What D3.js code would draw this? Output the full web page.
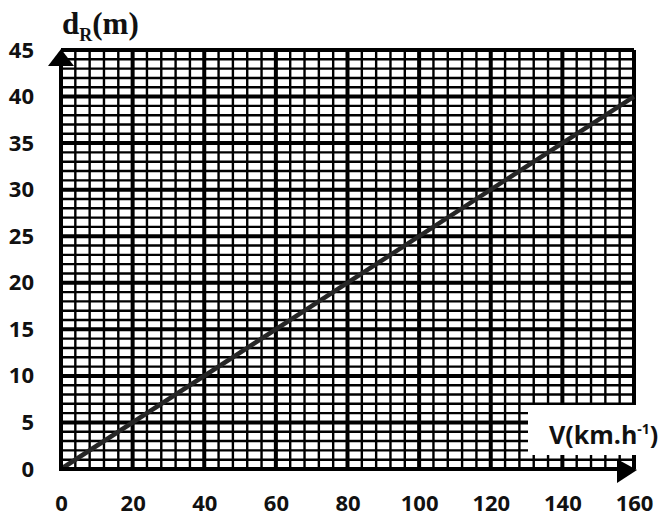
<!DOCTYPE html>
<html>
<head>
<meta charset="utf-8">
<script src="https://cdn.jsdelivr.net/npm/d3@7"></script>
<style>
  body { margin: 0; background: #fff; }
  svg { display: block; }
  .tick text { font-family: "Open Sans", sans-serif; font-weight: bold; font-size: 22px; fill: #111; }
</style>
</head>
<body>
<svg id="chart"></svg>
<script>
// speed (km/h) vs reaction distance (m)
const speeds = [0, 160];
const distances = [0, 40];
const xTicks = [0, 20, 40, 60, 80, 100, 120, 140, 160];
const yTicks = [0, 5, 10, 15, 20, 25, 30, 35, 40, 45];

const width = 663;
const height = 518;

const svg = d3.select('#chart')
  .attr('width', width)
  .attr('height', height);

const x = d3.scaleLinear().domain([0, 160]).range([61, 634]);
const y = d3.scaleLinear().domain([0, 45]).range([469, 50]);

// grid paper
const grid = svg.append('g');
grid.selectAll('.vmin')
  .data(d3.range(4, 160, 4).filter(v => v % 20 !== 0))
  .enter().append('line')
  .attr('x1', d => x(d)).attr('x2', d => x(d))
  .attr('y1', y(0)).attr('y2', y(45))
  .attr('stroke', '#000').attr('stroke-width', 2.4);
grid.selectAll('.hmin')
  .data(d3.range(1, 45, 1).filter(v => v % 5 !== 0))
  .enter().append('line')
  .attr('x1', x(0)).attr('x2', x(160))
  .attr('y1', d => y(d)).attr('y2', d => y(d))
  .attr('stroke', '#000').attr('stroke-width', 2.4);
grid.selectAll('.vmaj')
  .data(xTicks.slice(1))
  .enter().append('line')
  .attr('x1', d => x(d)).attr('x2', d => x(d))
  .attr('y1', y(0)).attr('y2', y(45))
  .attr('stroke', '#000').attr('stroke-width', 4);
grid.selectAll('.hmaj')
  .data(yTicks.slice(1))
  .enter().append('line')
  .attr('x1', x(0)).attr('x2', x(160))
  .attr('y1', d => y(d)).attr('y2', d => y(d))
  .attr('stroke', '#000').attr('stroke-width', 4);

// data line
const line = d3.line()
  .x((d, i) => x(speeds[i]))
  .y(d => y(d));
svg.append('path')
  .datum(distances)
  .attr('d', line)
  .attr('fill', 'none')
  .attr('stroke', '#262626')
  .attr('stroke-width', 4.5);

// white box behind the x label
svg.append('rect')
  .attr('x', 528).attr('y', 405)
  .attr('width', 140).attr('height', 50)
  .attr('fill', '#fff');

// axes
const xAxis = svg.append('g')
  .attr('transform', `translate(0,${y(0)})`)
  .call(d3.axisBottom(x).tickValues(xTicks).tickSize(0).tickPadding(26));
xAxis.select('.domain').remove();

const yAxis = svg.append('g')
  .attr('transform', `translate(${x(0)},0)`)
  .call(d3.axisLeft(y).tickValues(yTicks).tickSize(0).tickPadding(27));
yAxis.select('.domain').remove();

svg.append('line')
  .attr('x1', x(0)).attr('x2', 620)
  .attr('y1', y(0)).attr('y2', y(0))
  .attr('stroke', '#000').attr('stroke-width', 4);
svg.append('line')
  .attr('x1', x(0)).attr('x2', x(0))
  .attr('y1', y(0) + 2).attr('y2', 62)
  .attr('stroke', '#000').attr('stroke-width', 4);

svg.append('path')
  .attr('d', 'M617,459 L617,483 L637,470 Z')
  .attr('fill', '#000');
svg.append('path')
  .attr('d', 'M48,66 L74,66 L61,49 Z')
  .attr('fill', '#000');

// axis titles
const yTitle = svg.append('text')
  .attr('x', 62).attr('y', 34)
  .attr('font-family', '"Liberation Serif", serif')
  .attr('font-weight', 'bold')
  .attr('font-size', 31)
  .attr('fill', '#111');
yTitle.append('tspan').text('d');
yTitle.append('tspan').attr('font-size', 18).attr('dy', 7).text('R');
yTitle.append('tspan').attr('dy', -7).text('(m)');

const xTitle = svg.append('text')
  .attr('x', 549).attr('y', 444)
  .attr('font-family', '"Open Sans", sans-serif')
  .attr('font-weight', 'bold')
  .attr('font-size', 25)
  .attr('fill', '#111');
xTitle.append('tspan').text('V(km.h');
xTitle.append('tspan').attr('font-size', 14).attr('dy', -10).text('-1');
xTitle.append('tspan').attr('dy', 10).text(')');
</script>
</body>
</html>
